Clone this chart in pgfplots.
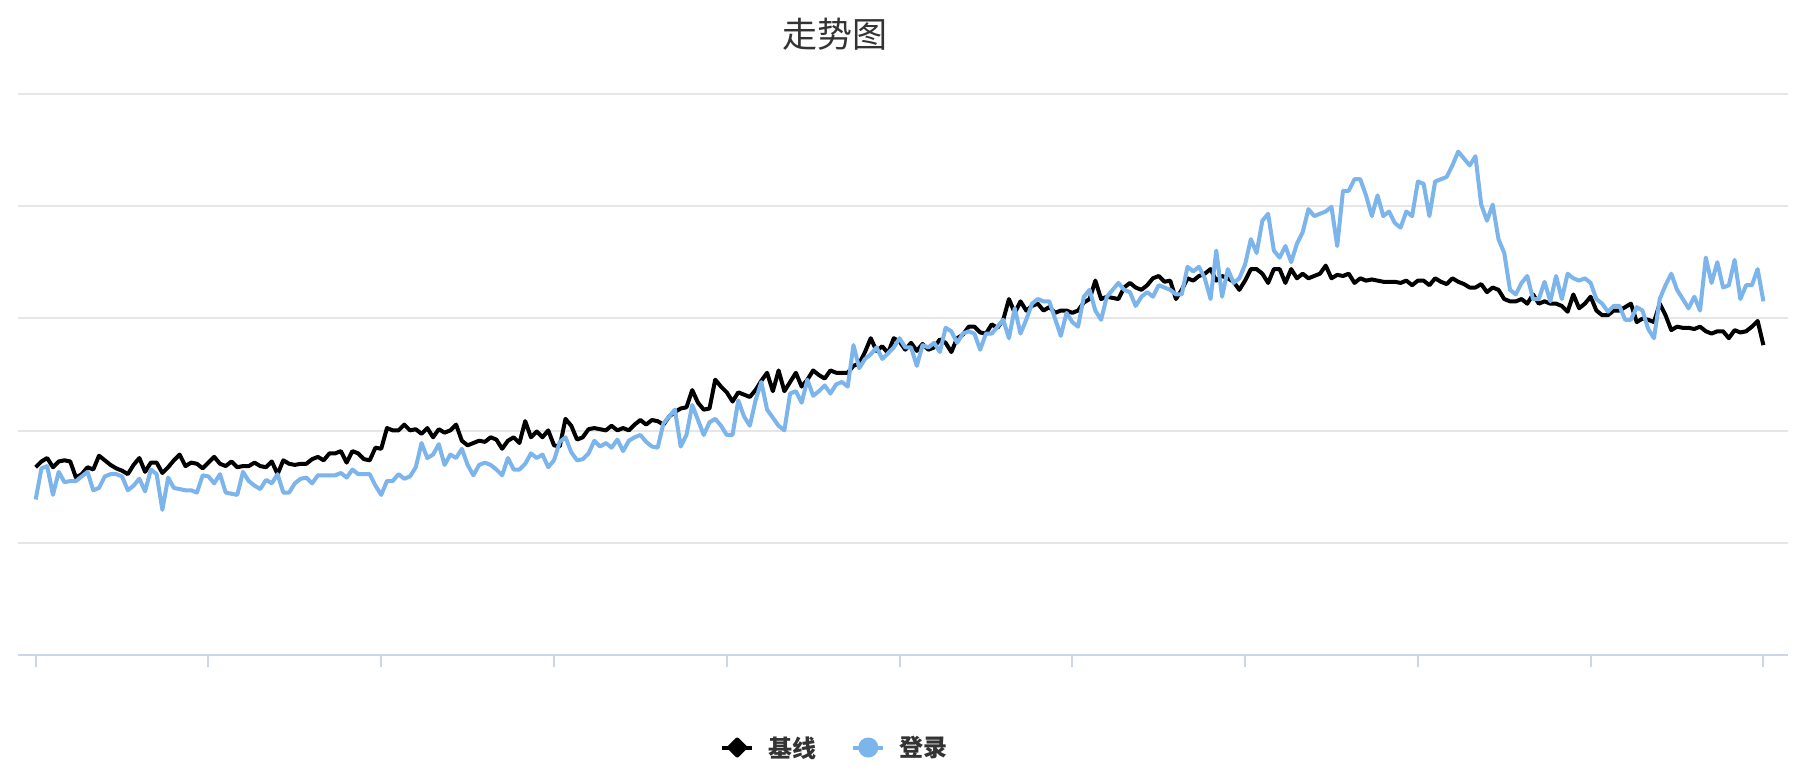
\documentclass[border=0pt]{standalone}
\usepackage{fontspec}
\usepackage{pgfplots}
\pgfplotsset{compat=1.18}
\usepackage{pgfplotstable}
\newfontfamily\cjk{Noto Sans CJK SC}
\definecolor{gridc}{HTML}{E6E6E6}
\definecolor{axisc}{HTML}{CCD6EB}
\definecolor{bluec}{HTML}{7CB5EC}
\definecolor{txtc}{HTML}{333333}
% values: vertical pixel positions (top grid line = 80, x axis = 567)
\pgfplotstableread[row sep=\\]{
b l\\
404 432\\ 399 405\\ 396 403\\ 404 428\\ 399 408\\ 398 417\\ 399 416\\ 413 416\\ 410 412\\ 404 408\\
406 424\\ 394 422\\ 398 412\\ 402 410\\ 405 410\\ 407 412\\ 410 424\\ 402 420\\ 396 414\\ 408 425\\
400 406\\ 400 410\\ 409 441\\ 404 413\\ 398 422\\ 393 423\\ 403 424\\ 400 424\\ 401 426\\ 405 411\\
400 412\\ 395 418\\ 401 410\\ 403 426\\ 399 427\\ 404 428\\ 403 408\\ 403 416\\ 400 420\\ 403 423\\
404 415\\ 399 418\\ 410 410\\ 398 426\\ 401 426\\ 402 418\\ 401 414\\ 401 413\\ 397 418\\ 395 411\\
398 411\\ 392 411\\ 392 411\\ 390 409\\ 400 413\\ 390 406\\ 392 410\\ 397 410\\ 398 410\\ 387 420\\
388 428\\ 370 416\\ 372 416\\ 372 410\\ 367 414\\ 372 412\\ 371 404\\ 375 383\\ 370 396\\ 378 393\\
371 384\\ 374 402\\ 372 393\\ 367 396\\ 381 388\\ 385 402\\ 383 411\\ 381 402\\ 382 400\\ 378 402\\
380 406\\ 388 411\\ 381 396\\ 378 406\\ 383 406\\ 364 401\\ 378 392\\ 373 396\\ 378 393\\ 372 404\\
385 398\\ 386 382\\ 362 378\\ 368 391\\ 380 398\\ 378 397\\ 371 392\\ 370 381\\ 371 386\\ 372 383\\
368 387\\ 372 380\\ 370 390\\ 372 381\\ 367 378\\ 363 376\\ 367 382\\ 363 386\\ 364 387\\ 367 366\\
360 360\\ 356 354\\ 353 386\\ 352 376\\ 337 350\\ 348 363\\ 354 376\\ 353 365\\ 328 362\\ 334 368\\
339 376\\ 347 376\\ 339 346\\ 341 360\\ 343 368\\ 337 346\\ 329 330\\ 322 354\\ 338 361\\ 320 368\\
338 372\\ 330 340\\ 322 338\\ 334 348\\ 328 328\\ 320 342\\ 324 338\\ 327 333\\ 320 340\\ 322 332\\
322 330\\ 322 334\\ 316 298\\ 314 318\\ 304 310\\ 292 306\\ 303 300\\ 299 310\\ 305 305\\ 292 300\\
295 292\\ 302 300\\ 296 300\\ 303 316\\ 297 298\\ 302 300\\ 300 296\\ 293 304\\ 296 283\\ 304 286\\
292 296\\ 289 288\\ 282 286\\ 282 288\\ 287 302\\ 288 288\\ 280 288\\ 283 282\\ 276 276\\ 258 292\\
270 266\\ 260 288\\ 268 276\\ 264 262\\ 262 258\\ 268 260\\ 265 260\\ 270 275\\ 268 290\\ 268 270\\
270 278\\ 268 282\\ 261 256\\ 258 250\\ 242 268\\ 258 276\\ 256 256\\ 257 250\\ 258 244\\ 248 250\\
244 252\\ 248 264\\ 250 256\\ 246 252\\ 240 256\\ 238 246\\ 243 248\\ 242 250\\ 258 254\\ 250 254\\
240 230\\ 242 234\\ 238 230\\ 236 240\\ 232 258\\ 242 216\\ 238 256\\ 240 232\\ 243 244\\ 250 240\\
242 228\\ 232 206\\ 232 218\\ 236 190\\ 244 184\\ 232 216\\ 232 222\\ 244 212\\ 232 226\\ 240 210\\
236 200\\ 240 180\\ 238 186\\ 236 184\\ 229 182\\ 240 178\\ 237 212\\ 238 164\\ 236 164\\ 244 154\\
240 154\\ 242 168\\ 241 186\\ 242 168\\ 243 186\\ 243 182\\ 243 192\\ 244 196\\ 242 182\\ 246 186\\
242 156\\ 242 158\\ 246 186\\ 240 156\\ 243 154\\ 245 152\\ 240 142\\ 243 130\\ 245 136\\ 248 142\\
248 134\\ 245 176\\ 252 190\\ 248 176\\ 250 206\\ 258 218\\ 260 250\\ 260 254\\ 258 244\\ 262 238\\
254 258\\ 262 258\\ 260 243\\ 262 260\\ 262 238\\ 264 258\\ 269 236\\ 254 240\\ 266 242\\ 262 240\\
256 244\\ 268 258\\ 272 262\\ 272 269\\ 268 264\\ 268 264\\ 265 276\\ 262 276\\ 278 265\\ 275 268\\
276 284\\ 278 292\\ 262 258\\ 272 246\\ 285 236\\ 282 250\\ 283 258\\ 283 266\\ 284 256\\ 282 268\\
286 222\\ 288 244\\ 286 226\\ 286 248\\ 292 246\\ 285 224\\ 287 258\\ 286 246\\ 282 246\\ 277 232\\
298 260\\
}\data
\begin{document}
\begin{tikzpicture}
\fill[white] (0,0) rectangle (1806bp,779bp);
\path[use as bounding box] (0,0) rectangle (1806bp,779bp);
\begin{axis}[
  scale only axis,
  width=1769.2bp, height=561bp,
  at={(18.4bp,124bp)}, anchor=south west,
  xmin=-3.0, xmax=304.2,
  ymin=0, ymax=487,
  axis x line*=bottom,
  axis y line*=left,
  x axis line style={draw=axisc, line width=2bp, -},
  y axis line style={draw=none},
  xtick={0,30,...,300}, xticklabels={},
  ytick={0,97.4,194.8,292.2,389.6,487}, yticklabels={},
  ymajorgrids,
  major grid style={draw=gridc, line width=2bp},
  tick align=outside,
  major tick length=12bp,
  x tick style={draw=axisc, line width=2bp},
  y tick style={draw=none},
  clip=false,
  legend columns=2,
  legend style={at={(0.3966,-0.1649)}, anchor=west, draw=none, fill=none,
    inner sep=0pt, nodes={inner sep=0pt},
    font=\cjk\bfseries\fontsize{24bp}{28bp}\selectfont, text=txtc,
    /tikz/every odd column/.append style={column sep=14bp},
    /tikz/every even column/.append style={column sep=35bp}},
]
\addplot[black, line width=4bp, line join=round, no markers,
  legend image code/.code={
    \draw[black, line width=4bp] (0bp,0bp) -- (30bp,0bp);
    \fill[black] (15bp,8bp) -- (23bp,0bp) -- (15bp,-8bp) -- (7bp,0bp) -- cycle;
  }] table[x expr=\coordindex, y expr=567-\thisrow{b}] {\data};
\addlegendentry{基线}
\addplot[bluec, line width=4bp, line join=round, no markers,
  legend image code/.code={
    \draw[bluec, line width=4bp] (0bp,0bp) -- (30bp,0bp);
    \fill[bluec] (15bp,0bp) circle (8bp);
  }] table[x expr=\coordindex, y expr=567-\thisrow{l}] {\data};
\addlegendentry{登录}
\end{axis}
\node[font=\cjk\fontsize{35bp}{40bp}\selectfont, text=txtc] at (835bp,744.5bp) {走势图};
\end{tikzpicture}
\end{document}
